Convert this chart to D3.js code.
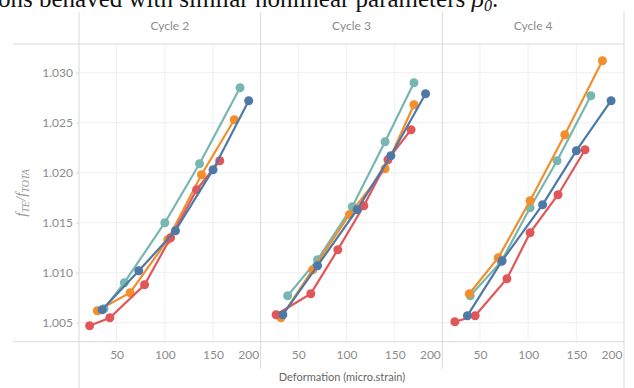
<!DOCTYPE html>
<html><head><meta charset="utf-8">
<script src="https://cdn.jsdelivr.net/npm/d3@7"></script>
<style>body{margin:0;background:#fff;} svg{display:block;}</style>
</head><body><svg id="c" width="634" height="388"></svg>
<script>
const cycles = ["Cycle 2", "Cycle 3", "Cycle 4"];
const seriesKeys = ["teal", "orange", "red", "blue"];
const seriesColors = ["#76b7b2", "#f28e2b", "#e15759", "#4e79a7"];

// strain (x) and frequency ratio (y), one inner array per cycle
const strainTeal = [[37, 58, 100, 136, 178], [39, 70, 106, 140, 170], [40, 72, 102, 130, 165]];
const ratioTeal  = [[1.0064, 1.0090, 1.0150, 1.0209, 1.0285], [1.0077, 1.0113, 1.0166, 1.0231, 1.0290], [1.0077, 1.0111, 1.0165, 1.0212, 1.0277]];
const strainOrange = [[30, 64, 103, 138, 172], [32, 65, 103, 140, 170], [39, 69, 102, 138, 177]];
const ratioOrange  = [[1.0062, 1.0080, 1.0133, 1.0198, 1.0253], [1.0055, 1.0103, 1.0158, 1.0204, 1.0268], [1.0079, 1.0115, 1.0172, 1.0238, 1.0312]];
const strainRed = [[22, 43, 79, 106, 133, 157], [27, 63, 91, 118, 143, 167], [24, 45, 78, 102, 131, 159]];
const ratioRed  = [[1.0047, 1.0055, 1.0088, 1.0135, 1.0183, 1.0212], [1.0058, 1.0079, 1.0123, 1.0167, 1.0213, 1.0243], [1.0051, 1.0057, 1.0094, 1.0140, 1.0178, 1.0223]];
const strainBlue = [[35, 73, 111, 150, 187], [34, 70, 111, 146, 182], [37, 73, 115, 150, 186]];
const ratioBlue  = [[1.0063, 1.0102, 1.0142, 1.0203, 1.0272], [1.0058, 1.0107, 1.0163, 1.0217, 1.0279], [1.0057, 1.0112, 1.0168, 1.0222, 1.0272]];

const yTicks = [1.005, 1.010, 1.015, 1.020, 1.025, 1.030];
const xTicks = [50, 100, 150, 200];
const xGrid = [50, 100, 150];

const strainBySeries = [strainTeal, strainOrange, strainRed, strainBlue];
const ratioBySeries = [ratioTeal, ratioOrange, ratioRed, ratioBlue];

const svg = d3.select("#c");
const plotTop = 44, plotBottom = 341.7, plotLeft = 79, plotRight = 624, outerLeft = 13;
const labelFont = "Lato, 'Open Sans', sans-serif";
const gray = "#8c8c8c";
const borderC = "#d9d9d9";
const gridC = "#efefef";

// cropped caption text at top
const cap = svg.append("text").attr("x", -2).attr("y", 7)
  .attr("font-family", "'Liberation Serif', 'DejaVu Serif', serif")
  .attr("font-size", 25).attr("fill", "#111");
cap.append("tspan").text("ons behaved with similar nonlinear parameters ");
cap.append("tspan").attr("font-style", "italic").text("β");
cap.append("tspan").attr("font-size", 16).attr("dy", 4).attr("font-style", "italic").text("0");
cap.append("tspan").attr("dy", -4).text(".");

const panel = d3.scaleBand().domain(cycles).range([plotLeft, plotRight]).paddingInner(0).paddingOuter(0);
const bw = panel.bandwidth();
const y = d3.scaleLinear().domain([1.0031, 1.03287]).range([plotBottom, plotTop]);
const x = d3.scaleLinear().domain([11, 199.4]).range([0, bw]);

// gridlines
cycles.forEach(c => {
  const g = svg.append("g").attr("transform", `translate(${panel(c)},0)`);
  g.selectAll("line.hg").data(yTicks).join("line")
    .attr("x1", 0).attr("x2", bw).attr("y1", d => y(d)).attr("y2", d => y(d))
    .attr("stroke", gridC).attr("stroke-width", 1);
  g.selectAll("line.vg").data(xGrid).join("line")
    .attr("x1", d => x(d)).attr("x2", d => x(d)).attr("y1", plotTop).attr("y2", plotBottom)
    .attr("stroke", gridC).attr("stroke-width", 1);
});

// frame lines
svg.append("line").attr("x1", outerLeft).attr("x2", plotRight).attr("y1", plotTop).attr("y2", plotTop).attr("stroke", borderC);
svg.append("line").attr("x1", outerLeft).attr("x2", plotRight).attr("y1", plotBottom).attr("y2", plotBottom).attr("stroke", borderC);
svg.append("line").attr("x1", plotLeft).attr("x2", plotLeft).attr("y1", 12).attr("y2", 388).attr("stroke", borderC);
svg.append("line").attr("x1", plotRight).attr("x2", plotRight).attr("y1", 12).attr("y2", 388).attr("stroke", borderC);
cycles.slice(1).forEach(c => {
  svg.append("line").attr("x1", panel(c)).attr("x2", panel(c)).attr("y1", 12).attr("y2", 369).attr("stroke", borderC);
});

// panel titles
svg.selectAll("text.ptitle").data(cycles).join("text")
  .attr("x", d => panel(d) + bw / 2).attr("y", 27).attr("text-anchor", "middle")
  .attr("dominant-baseline", "middle").attr("font-family", labelFont)
  .attr("font-size", 12).attr("fill", gray).text(d => d);

// y axis
const ya = svg.append("g").attr("transform", `translate(${plotLeft},0)`)
  .call(d3.axisLeft(y).tickValues(yTicks).tickFormat(d3.format(".3f")).tickSize(3).tickPadding(3));
ya.select(".domain").remove();
ya.selectAll(".tick line").attr("stroke", borderC);
ya.selectAll(".tick text").attr("font-family", labelFont).attr("font-size", 12).attr("fill", gray);

// y axis title
const yt = svg.append("text").attr("transform", "translate(26,193) rotate(-90)")
  .attr("text-anchor", "middle").attr("font-family", "'Liberation Serif', serif")
  .attr("font-style", "italic").attr("font-size", 15).attr("fill", "#999");
yt.append("tspan").text("f");
yt.append("tspan").attr("font-size", 10).attr("dy", 3).text("TE");
yt.append("tspan").attr("dy", -3).text("/");
yt.append("tspan").text("f");
yt.append("tspan").attr("font-size", 10).attr("dy", 3).text("TOTA");

// x axes
cycles.forEach(c => {
  const xa = svg.append("g").attr("transform", `translate(${panel(c)},${plotBottom})`)
    .call(d3.axisBottom(x).tickValues(xTicks).tickSize(0).tickPadding(9));
  xa.select(".domain").remove();
  xa.selectAll(".tick text").attr("font-family", labelFont).attr("font-size", 12).attr("fill", gray)
    .filter(d => d === 200).attr("text-anchor", "end").attr("x", bw - 2 - x(200));
});

// x axis title
svg.append("text").attr("x", 342).attr("y", 378).attr("text-anchor", "middle")
  .attr("dominant-baseline", "middle").attr("font-family", labelFont)
  .attr("font-size", 11).attr("fill", "#666").text("Deformation (micro.strain)");

// series
const line = d3.line().x(d => x(d[0])).y(d => y(d[1]));
cycles.forEach((c, ci) => {
  const g = svg.append("g").attr("transform", `translate(${panel(c)},0)`);
  seriesKeys.forEach((k, si) => {
    const pts = strainBySeries[si][ci].map((s, i) => [s, ratioBySeries[si][ci][i]]);
    g.append("path").attr("d", line(pts)).attr("fill", "none")
      .attr("stroke", seriesColors[si]).attr("stroke-width", 2.2);
    g.selectAll(null).data(pts).join("circle")
      .attr("cx", d => x(d[0])).attr("cy", d => y(d[1])).attr("r", 4.5)
      .attr("fill", seriesColors[si]);
  });
});
</script></body></html>
